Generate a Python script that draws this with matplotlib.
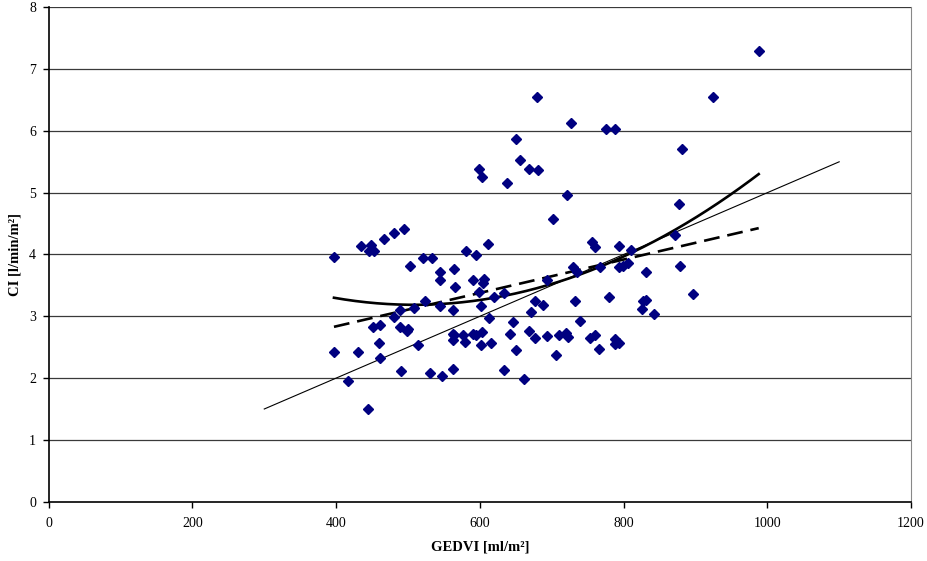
import matplotlib.pyplot as plt
import numpy as np

# GEDVI [ml/m2] and CI [l/min/m2]
gedvi = [
    397, 435, 449, 446, 453, 467, 480, 494, 397, 430,
    417, 444, 451, 461, 459, 461, 480, 489, 489, 498,
    500, 490, 503, 514, 509, 521, 533, 523, 531, 545,
    545, 544, 548, 564, 566, 562, 562, 564, 563, 577,
    580, 591, 594, 563, 581, 594, 591, 599, 603, 638,
    656, 669, 681, 721, 702, 612, 756, 760, 794, 604,
    606, 599, 602, 619, 634, 613, 603, 602, 616, 634,
    646, 642, 650, 662, 677, 688, 671, 669, 677, 694,
    694, 706, 710, 720, 723, 730, 732, 739, 735, 753,
    760, 766, 779, 767, 793, 799, 806, 788, 788, 794,
    924, 881, 877, 872, 810, 879, 831, 896, 827, 831,
    826, 842, 680, 727, 776, 788, 650, 988,
]
ci = [
    3.96, 4.14, 4.15, 4.06, 4.06, 4.25, 4.35, 4.42, 2.43, 2.43,
    1.95, 1.50, 2.83, 2.86, 2.57, 2.32, 2.99, 3.11, 2.82, 2.77,
    2.80, 2.11, 3.82, 2.54, 3.14, 3.95, 3.94, 3.24, 2.08, 3.72,
    3.59, 3.16, 2.03, 3.76, 3.47, 3.11, 2.72, 2.70, 2.62, 2.70,
    2.58, 2.72, 2.70, 2.14, 4.06, 3.99, 3.59, 5.39, 5.25, 5.15,
    5.53, 5.39, 5.37, 4.97, 4.58, 4.17, 4.20, 4.12, 4.14, 3.54,
    3.60, 3.40, 3.17, 3.32, 3.38, 2.98, 2.74, 2.54, 2.56, 2.13,
    2.91, 2.72, 2.45, 1.99, 3.25, 3.19, 3.07, 2.76, 2.65, 3.58,
    2.68, 2.37, 2.69, 2.73, 2.67, 3.80, 3.25, 2.93, 3.71, 2.65,
    2.69, 2.47, 3.31, 3.79, 3.80, 3.82, 3.86, 2.63, 2.55, 2.56,
    6.55, 5.71, 4.81, 4.31, 4.08, 3.81, 3.71, 3.36, 3.25, 3.26,
    3.12, 3.04, 6.55, 6.12, 6.03, 6.03, 5.87, 7.29,
]

# thin reference line end points
ref_line_x = [300, 1100]
ref_line_y = [1.5, 5.5]

# trend line coefficients (highest power first)
linear_coeffs = [0.002702, 1.757]
quadratic_coeffs = [9.195e-6, -0.009350, 5.563]

x_ticks = [0, 200, 400, 600, 800, 1000, 1200]
y_ticks = [0, 1, 2, 3, 4, 5, 6, 7, 8]

plt.rcParams["font.family"] = ["Liberation Serif", "DejaVu Serif"]

fig = plt.figure(figsize=(9.27, 5.61), dpi=100)
ax = fig.add_axes([0.0525, 0.1057, 0.9303, 0.8813])

for y in y_ticks[1:]:
    ax.axhline(y, color="#3a3a3a", linewidth=0.9, zorder=1)

ax.plot(ref_line_x, ref_line_y, color="black", linewidth=0.8, zorder=2)

fit_x = np.linspace(min(gedvi), max(gedvi), 200)
ax.plot(fit_x, np.polyval(linear_coeffs, fit_x), color="black", linewidth=1.9,
        linestyle=(0, (6, 3)), zorder=3)
ax.plot(fit_x, np.polyval(quadratic_coeffs, fit_x), color="black",
        linewidth=1.9, zorder=3)

ax.plot(gedvi, ci, linestyle="none", marker="D", markersize=4.6,
        color="#000080", zorder=4)

ax.set_xlim(0, 1200)
ax.set_ylim(0, 8)
ax.set_xticks(x_ticks)
ax.set_yticks(y_ticks)
ax.tick_params(axis="both", direction="out", length=4, width=1,
               labelsize=10, colors="black")
ax.tick_params(axis="x", pad=7)
ax.tick_params(axis="y", pad=5)

ax.spines["top"].set_visible(False)
ax.spines["right"].set_color("#888888")
ax.spines["left"].set_linewidth(1.2)
ax.spines["bottom"].set_linewidth(1.2)

ax.set_xlabel("GEDVI [ml/m²]", fontsize=10.5, fontweight="bold")
ax.set_ylabel("CI [l/min/m²]", fontsize=10.5, fontweight="bold")
ax.xaxis.set_label_coords(0.5, -0.078)
ax.yaxis.set_label_coords(-0.032, 0.5)

fig.savefig("out.png", dpi=100)
plt.close(fig)
